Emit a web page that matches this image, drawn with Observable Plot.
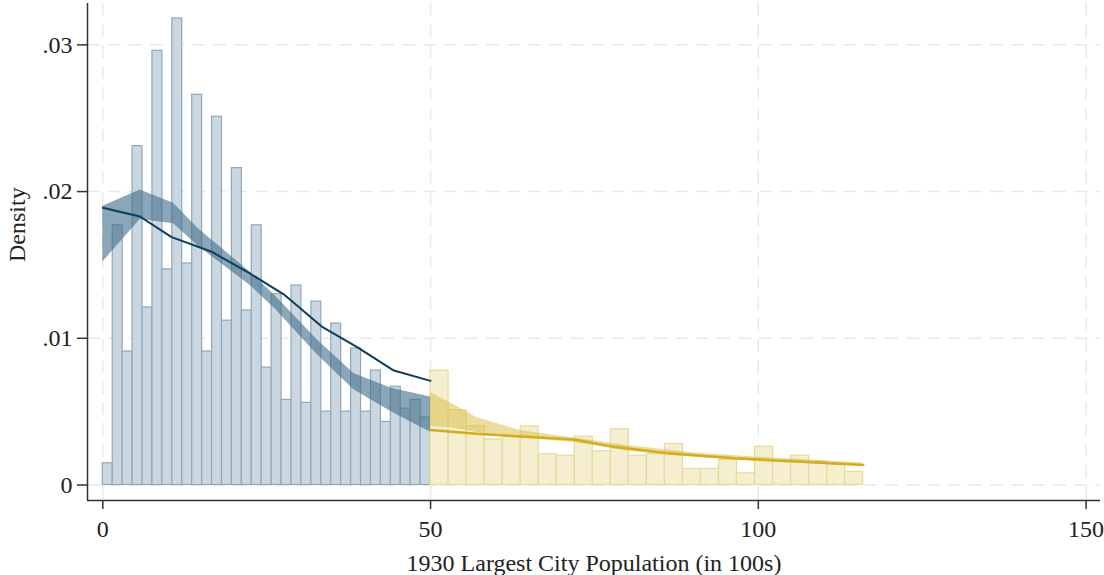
<!DOCTYPE html>
<html>
<head>
<meta charset="utf-8">
<script src="https://cdn.jsdelivr.net/npm/d3@7"></script>
<script src="https://cdn.jsdelivr.net/npm/@observablehq/plot@0.6"></script>
<style>
  html, body { margin: 0; padding: 0; background: #fff; }
  #chart { width: 1104px; height: 575px; }
</style>
</head>
<body>
<div id="chart"></div>
<script>
// ---- Data ----
const blueBinStart = 0;
const blueBinWidth = 50 / 33;
const blueDensity = [0.00148, 0.0177, 0.0091, 0.0231, 0.0121, 0.0296, 0.0147, 0.0318, 0.0151, 0.0266,
  0.0091, 0.0251, 0.0112, 0.0216, 0.0119, 0.0177, 0.0080, 0.0130, 0.0058, 0.0136,
  0.0056, 0.0125, 0.0050, 0.0110, 0.0050, 0.0093, 0.0050, 0.0078, 0.0043, 0.0067,
  0.0052, 0.0058, 0.0046];

const yellowBinStart = 50;
const yellowBinWidth = 2.75;
const yellowDensity = [0.0078, 0.0051, 0.0040, 0.0031, 0.0033, 0.0040, 0.0021, 0.0020, 0.0033, 0.0023,
  0.0038, 0.0020, 0.0021, 0.0028, 0.0011, 0.0011, 0.0017, 0.0008, 0.0026, 0.0016,
  0.0020, 0.0016, 0.0014, 0.0009];

const blueLineX = [0, 5.66, 10.5, 16.6, 22.5, 27.6, 33.4, 38.8, 44.4, 50];
const blueLineY = [0.0189, 0.0183, 0.0169, 0.0159, 0.0144, 0.0130, 0.0108, 0.0094, 0.0078, 0.0071];

const blueBandX  = [0, 5.7, 10.8, 14.5, 22.5, 26.3, 32.7, 38.3, 44, 50];
const blueBandLo = [0.0152, 0.0181, 0.0178, 0.0163, 0.0136, 0.0120, 0.0089, 0.0065, 0.0050, 0.0036];
const blueBandHi = [0.0190, 0.0201, 0.0192, 0.0175, 0.0145, 0.0129, 0.0099, 0.0076, 0.0066, 0.0060];

const yellowLineX = [50, 57, 63.8, 71.9, 78, 86.2, 96.4, 106, 116];
const yellowLineY = [0.00375, 0.0035, 0.0033, 0.0031, 0.0026, 0.00216, 0.00182, 0.0016, 0.00137];

const yellowBandX  = [50, 53, 57, 63.8, 71.9, 80, 90, 100, 116];
const yellowBandLo = [0.0040, 0.0039, 0.0036, 0.0032, 0.0029, 0.0023, 0.0019, 0.0016, 0.0013];
const yellowBandHi = [0.0063, 0.0056, 0.0046, 0.0037, 0.0032, 0.0027, 0.0022, 0.0019, 0.0015];

const xTicks = [0, 50, 100, 150];
const yTicks = [0, 0.01, 0.02, 0.03];
const xLabel = "1930 Largest City Population (in 100s)";
const yLabel = "Density";

// ---- Tables built from the arrays ----
const blueBars = blueDensity.map((v, i) => ({x1: blueBinStart + i * blueBinWidth, x2: blueBinStart + (i + 1) * blueBinWidth, y: v}));
const yellowBars = yellowDensity.map((v, i) => ({x1: yellowBinStart + i * yellowBinWidth, x2: yellowBinStart + (i + 1) * yellowBinWidth, y: v}));
const blueLine = blueLineX.map((x, i) => ({x, y: blueLineY[i]}));
const yellowLine = yellowLineX.map((x, i) => ({x, y: yellowLineY[i]}));
const blueBand = blueBandX.map((x, i) => ({x, lo: blueBandLo[i], hi: blueBandHi[i]}));
const yellowBand = yellowBandX.map((x, i) => ({x, lo: yellowBandLo[i], hi: yellowBandHi[i]}));

const xDom = [-2.334, 152.2];
const yDom = [-0.001056, 0.03282];
const fmtY = d => d === 0 ? "0" : d.toFixed(2).replace(/^0/, "");

const gridStyle = {stroke: "#e9e9e9", strokeOpacity: 1, strokeWidth: 1.5, strokeDasharray: "13,8"};

const chart = Plot.plot({
  width: 1104,
  height: 575,
  marginLeft: 87,
  marginRight: 4,
  marginTop: 3,
  marginBottom: 75,
  style: {fontFamily: "'Liberation Serif', 'Times New Roman', serif", fontSize: "24px", color: "#222", background: "#fff"},
  x: {domain: xDom, axis: null},
  y: {domain: yDom, axis: null},
  marks: [
    Plot.gridX(xTicks, gridStyle),
    Plot.gridY(yTicks, {...gridStyle, x1: xDom[0], x2: xDom[1]}),
    Plot.rect(blueBars, {x1: "x1", x2: "x2", y1: 0, y2: "y", fill: "#cbd7e0", stroke: "#8ea8b9", strokeWidth: 1.2}),
    Plot.rect(yellowBars, {x1: "x1", x2: "x2", y1: 0, y2: "y", fill: "#f5eecf", stroke: "#e8da9c", strokeWidth: 1.2}),
    Plot.areaY(blueBand, {x: "x", y1: "lo", y2: "hi", fill: "#3d6a88", fillOpacity: 0.6}),
    Plot.areaY(yellowBand, {x: "x", y1: "lo", y2: "hi", fill: "#d8bb3e", fillOpacity: 0.5}),
    Plot.line(blueLine, {x: "x", y: "y", stroke: "#0f3d5a", strokeWidth: 2}),
    Plot.line(yellowLine, {x: "x", y: "y", stroke: "#d1ad1f", strokeWidth: 2.5}),
    Plot.ruleX([xDom[0]], {y1: yDom[0], y2: yDom[1], stroke: "#333", strokeWidth: 1.5}),
    Plot.ruleY([yDom[0]], {x1: xDom[0], x2: xDom[1], stroke: "#333", strokeWidth: 1.5}),
    Plot.axisX(xTicks, {y: yDom[0], tickSize: 9, tickPadding: 10, fontSize: 24, stroke: "#333", strokeWidth: 1.5, label: null, tickFormat: d => String(d)}),
    Plot.axisY(yTicks, {x: xDom[0], tickSize: 10, tickPadding: 5, fontSize: 24, stroke: "#333", strokeWidth: 1.5, label: null, tickFormat: fmtY}),
    Plot.text([xLabel], {frameAnchor: "bottom", dy: 63, lineAnchor: "middle", fontSize: 24, fill: "#222"}),
    Plot.text([yLabel], {frameAnchor: "left", dx: -70, dy: 10, rotate: -90, lineAnchor: "middle", fontSize: 24, fill: "#222"})
  ]
});
document.getElementById("chart").appendChild(chart);
</script>
</body>
</html>
